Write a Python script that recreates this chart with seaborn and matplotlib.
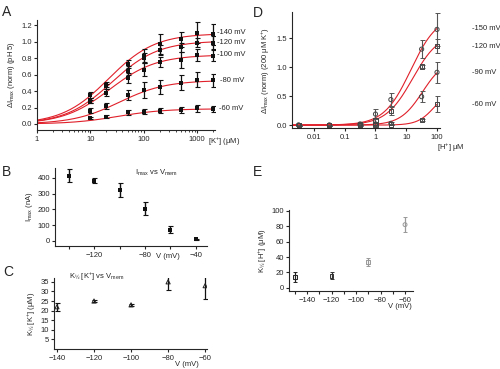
import numpy as np
import pandas as pd
import seaborn as sns
import matplotlib
matplotlib.use("Agg")
import matplotlib.pyplot as plt
from matplotlib.ticker import LogLocator, NullFormatter, FixedLocator

# ---- panel A : dI vs [K+] at several voltages (pH 5)
k_conc = [10, 20, 50, 100, 200, 500, 1000, 2000]
a_volts = [-140, -120, -100, -80, -60]
a_vals = {
    -140: [0.35, 0.48, 0.73, 0.83, 0.97, 1.03, 1.11, 1.09],
    -120: [0.29, 0.46, 0.65, 0.80, 0.90, 0.93, 0.99, 0.99],
    -100: [0.27, 0.38, 0.56, 0.66, 0.75, 0.78, 0.84, 0.83],
    -80: [0.16, 0.22, 0.35, 0.41, 0.45, 0.50, 0.54, 0.53],
    -60: [0.07, 0.09, 0.14, 0.15, 0.16, 0.17, 0.19, 0.18],
}
a_errs = {
    -140: [0.04, 0.03, 0.05, 0.08, 0.12, 0.09, 0.13, 0.13],
    -120: [0.03, 0.03, 0.06, 0.06, 0.06, 0.06, 0.05, 0.08],
    -100: [0.02, 0.04, 0.06, 0.08, 0.06, 0.10, 0.07, 0.07],
    -80: [0.03, 0.04, 0.06, 0.10, 0.08, 0.09, 0.09, 0.08],
    -60: [0.01, 0.02, 0.03, 0.03, 0.03, 0.04, 0.04, 0.04],
}
a_imax = [1.10, 1.01, 0.84, 0.53, 0.185]

# ---- panel B : Imax vs V
b_volts = [-140, -120, -100, -80, -60, -40]
b_imax = [415, 383, 325, 205, 72, 12]
b_err = [40, 15, 45, 40, 22, 3]

# ---- panel C : K1/2 [K+] vs V
c_volts = [-140, -120, -100, -80, -60]
c_k = [22, 25, 23, 35, 33]
c_err = [2, 0.6, 0.6, 4.5, 7]

# ---- panel D : dI vs [H+] at several voltages (200 uM K+)
h_conc = [0.00316, 0.0316, 0.316, 1, 3.16, 31.6, 100]
d_volts = [-150, -120, -90, -60]
d_vals = {
    -150: [0.0, 0.0, 0.02, 0.19, 0.44, 1.31, 1.65],
    -120: [0.0, 0.0, 0.01, 0.09, 0.25, 1.01, 1.37],
    -90: [0.0, 0.0, 0.0, 0.02, 0.03, 0.49, 0.91],
    -60: [0.0, 0.0, 0.0, 0.0, 0.01, 0.09, 0.37],
}
d_errs = {
    -150: [0.01, 0.01, 0.02, 0.08, 0.11, 0.16, 0.29],
    -120: [0.01, 0.01, 0.01, 0.04, 0.07, 0.03, 0.12],
    -90: [0.01, 0.01, 0.01, 0.01, 0.02, 0.10, 0.18],
    -60: [0.01, 0.01, 0.01, 0.01, 0.01, 0.02, 0.14],
}
d_imax = [1.90, 1.60, 1.15, 0.62]
d_hill = [1.0, 1.0, 1.2, 1.6]

# ---- panel E : K1/2 [H+] vs V
e_volts = [-150, -120, -90, -60]
e_k = [14, 16, 34, 82]
e_err = [6, 5, 5, 10]

sns.set_style("ticks")
plt.rcParams['font.family'] = ['Liberation Sans', 'DejaVu Sans']
plt.rcParams['mathtext.default'] = 'regular'
plt.rcParams.update({'axes.linewidth': 0.8, 'xtick.major.size': 2.5, 'ytick.major.size': 2.5,
                     'xtick.minor.size': 1.5, 'ytick.minor.size': 1.5,
                     'xtick.major.width': 0.8, 'ytick.major.width': 0.8,
                     'xtick.labelsize': 5.5, 'ytick.labelsize': 5.5,
                     'xtick.major.pad': 1.5, 'ytick.major.pad': 1})

W, H = 500, 369
fig = plt.figure(figsize=(5, 3.69), dpi=100)


def rect(l, t, r, b):
    return [l / W, 1 - b / H, (r - l) / W, (b - t) / H]


def ftext(x, y, s, **kw):
    fig.text(x / W, 1 - y / H, s, **kw)


def hill(x, imax, k, n=1.0):
    x = np.asarray(x, dtype=float)
    return imax * x ** n / (x ** n + k ** n)


RED = '#e0202a'
LW = 0.8
FS = 5.5

# ---------------- A
axA = fig.add_axes(rect(37, 20, 215, 130))
xs = np.logspace(0, np.log10(2000), 200)
for v, imax, k in zip(a_volts, a_imax, c_k):
    sns.lineplot(x=xs, y=hill(xs, imax, k), ax=axA, color=RED, lw=LW, sort=False)
for v in a_volts:
    axA.errorbar(k_conc, a_vals[v], yerr=a_errs[v], fmt='none', ecolor='#111111',
                 elinewidth=0.9, capsize=1.8, capthick=0.8)
    sns.scatterplot(x=k_conc, y=a_vals[v], ax=axA, color='#111111', marker='s', s=6,
                    linewidth=0, zorder=5)
axA.set_xscale('log')
axA.set_xlim(1, 2180)
axA.set_ylim(-0.073, 1.264)
axA.set_yticks([0.0, 0.2, 0.4, 0.6, 0.8, 1.0, 1.2])
axA.set_yticklabels(['0.0', '0.2', '0.4', '0.6', '0.8', '1.0', '1.2'])
axA.set_xticks([1, 10, 100, 1000])
axA.set_xticklabels(['1', '10', '100', '1000'])
axA.xaxis.set_minor_locator(LogLocator(base=10, subs=np.arange(2, 10)))
axA.xaxis.set_minor_formatter(NullFormatter())
axA.set_ylabel(r'$\Delta$I$_{max}$ (norm) (pH 5)', fontsize=FS, labelpad=3)
sns.despine(ax=axA)
for lab, y, x in [('-140 mV', 33, 217), ('-120 mV', 42, 217), ('-100 mV', 55, 217),
                  ('-80 mV', 80, 220), ('-60 mV', 108, 219)]:
    ftext(x, y, lab, fontsize=FS, va='center')
ftext(224, 142, r'[K$^{+}$] ($\mu$M)', fontsize=FS, ha='center', va='center')

# ---------------- D
axD = fig.add_axes(rect(292, 12, 440, 128))
xs = np.logspace(np.log10(0.002), 2, 300)
for v, imax, k, n in zip(d_volts, d_imax, e_k, d_hill):
    sns.lineplot(x=xs, y=hill(xs, imax, k, n), ax=axD, color=RED, lw=LW, sort=False)
for v, mk in zip(d_volts, ['o', 's', 'o', 's']):
    axD.errorbar(h_conc, d_vals[v], yerr=d_errs[v], fmt='none', ecolor='#555555',
                 elinewidth=0.8, capsize=1.8, capthick=0.7)
    sns.scatterplot(x=h_conc, y=d_vals[v], ax=axD, marker=mk, s=9, facecolor='none',
                    edgecolor='#444444', linewidth=0.7, zorder=5)
axD.set_xscale('log')
axD.set_xlim(0.00193, 125)
axD.set_ylim(-0.05, 1.95)
axD.set_yticks([0.0, 0.5, 1.0, 1.5])
axD.set_yticklabels(['0.0', '0.5', '1.0', '1.5'])
axD.set_xticks([0.01, 0.1, 1, 10, 100])
axD.set_xticklabels(['0.01', '0.1', '1', '10', '100'])
axD.xaxis.set_minor_locator(FixedLocator([]))
axD.set_ylabel(r'$\Delta$I$_{max}$ (norm) (200 $\mu$M K$^{+}$)', fontsize=FS, labelpad=3)
sns.despine(ax=axD)
for lab, y in [('-150 mV', 29, ), ('-120 mV', 46), ('-90 mV', 72), ('-60 mV', 105)]:
    ftext(472, y, lab, fontsize=FS, va='center')
ftext(451, 148, r'[H$^{+}$] $\mu$M', fontsize=FS, ha='center', va='center')

# ---------------- B
axB = fig.add_axes(rect(55, 168, 207, 246))
axB.errorbar(b_volts, b_imax, yerr=b_err, fmt='none', ecolor='#111111',
             elinewidth=1.0, capsize=1.8, capthick=0.8)
sns.scatterplot(x=b_volts, y=b_imax, ax=axB, color='#111111', marker='s', s=7,
                linewidth=0, zorder=5)
axB.set_xlim(-151, -31)
axB.set_ylim(-32, 463)
axB.set_yticks([0, 100, 200, 300, 400])
axB.set_xticks([-120, -80, -40])
axB.xaxis.set_minor_locator(FixedLocator([-140, -100, -60]))
axB.tick_params(axis='x', which='minor', length=2.5, width=0.8)
axB.set_ylabel(r'I$_{max}$ (nA)', fontsize=FS, labelpad=2)
sns.despine(ax=axB)
ftext(157, 173, r'I$_{max}$ vs V$_{mem}$', fontsize=FS, ha='center', va='center')
ftext(168, 257, 'V (mV)', fontsize=FS, ha='center', va='center')

# ---------------- C
axC = fig.add_axes(rect(54, 278, 207, 349))
axC.errorbar(c_volts, c_k, yerr=c_err, fmt='none', ecolor='#111111',
             elinewidth=0.9, capsize=1.8, capthick=0.8)
sns.scatterplot(x=c_volts, y=c_k, ax=axC, marker='^', s=9, facecolor='none',
                edgecolor='#222222', linewidth=0.7, zorder=5)
axC.set_xlim(-141.6, -59)
axC.set_ylim(0, 37)
axC.set_yticks([5, 10, 15, 20, 25, 30, 35])
axC.set_xticks([-140, -120, -100, -80, -60])
axC.set_ylabel(r'K$_{½}$ [K$^{+}$] ($\mu$M)', fontsize=FS, labelpad=2)
sns.despine(ax=axC)
ftext(97, 277, r'K$_{½}$ [K$^{+}$] vs V$_{mem}$', fontsize=FS, ha='center', va='center')
ftext(187, 364, 'V (mV)', fontsize=FS, ha='center', va='center')

# ---------------- E
axE = fig.add_axes(rect(289, 210, 413, 291))
e_cols = ['#222222', '#333333', '#999999', '#999999']
for v, k, err, c, mk in zip(e_volts, e_k, e_err, e_cols, ['s', 's', 's', 'o']):
    axE.errorbar([v], [k], yerr=[err], fmt='none', ecolor=c, elinewidth=0.9,
                 capsize=1.5, capthick=0.7)
    sns.scatterplot(x=[v], y=[k], ax=axE, marker=mk, s=8, facecolor='none',
                    edgecolor=c, linewidth=0.7, zorder=5)
axE.set_xlim(-154.7, -53.5)
axE.set_ylim(-4, 101)
axE.set_yticks([0, 20, 40, 60, 80, 100])
axE.set_xticks([-140, -120, -100, -80, -60])
axE.xaxis.set_minor_locator(FixedLocator([-150, -130, -110, -90, -70]))
axE.tick_params(axis='x', which='minor', length=2.5, width=0.8)
axE.set_ylabel(r'K$_{½}$ [H$^{+}$] ($\mu$M)', fontsize=FS, labelpad=2)
sns.despine(ax=axE)
ftext(400, 307, 'V (mV)', fontsize=FS, ha='center', va='center')

# ---------------- panel letters
for lab, x, y in [('A', 2, 12), ('B', 2, 172), ('C', 3, 272), ('D', 253, 13), ('E', 253, 172)]:
    ftext(x, y, lab, fontsize=10, va='center')

fig.savefig('out.png', dpi=100)
